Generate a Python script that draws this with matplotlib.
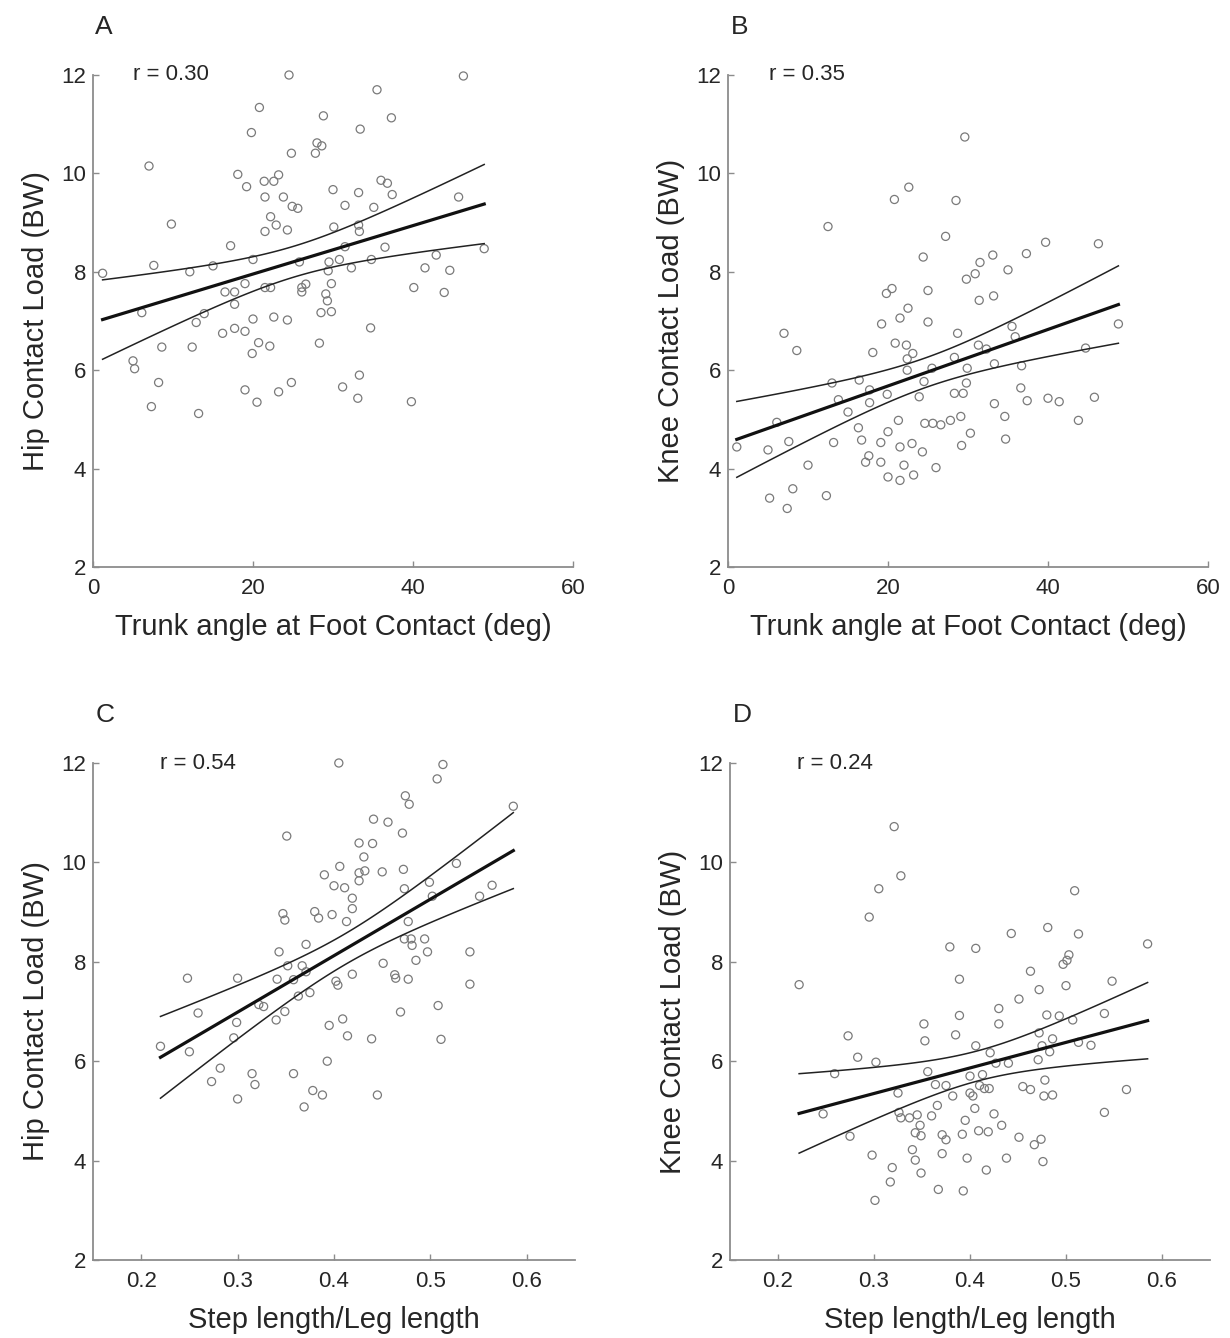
import numpy as np
import matplotlib
matplotlib.use('Agg')
import matplotlib.pyplot as plt

plt.rcParams['font.family'] = ['Liberation Sans', 'DejaVu Sans']

# Panel A: trunk angle vs hip contact load
trunk_hip_x = [1.2, 7.0, 7.6, 9.8, 6.1, 5.0, 5.2, 8.6, 8.2, 7.3, 13.2, 12.4, 12.9, 13.9, 12.1,
               15.0, 17.2, 18.1, 19.2, 19.8, 20.8, 21.4, 21.5, 22.6, 23.2, 22.2, 21.5, 22.9, 24.3,
               23.8, 24.9, 25.6, 24.8, 24.5, 20.0, 16.5, 17.7, 17.7, 19.0, 20.0, 16.2, 17.7, 19.0,
               19.9, 20.7, 22.1, 21.5, 22.2, 22.6, 24.3, 19.0, 20.5, 23.2, 24.8, 25.8, 26.1, 26.6,
               26.1, 27.8, 28.0, 28.6, 28.8, 30.0, 31.5, 30.1, 29.4, 29.5, 29.8, 29.1, 29.3, 28.5,
               29.8, 28.3, 30.8, 31.5, 32.3, 33.2, 33.3, 33.2, 33.4, 31.2, 33.1, 33.3, 34.7, 34.8,
               35.1, 35.5, 36.0, 36.8, 37.3, 37.4, 36.5, 39.8, 40.1, 41.5, 42.9, 43.9, 44.6, 45.7,
               46.3, 48.9]
trunk_hip_y = [7.97, 10.15, 8.13, 8.97, 7.17, 6.19, 6.03, 6.47, 5.75, 5.26, 5.12, 6.47, 6.97, 7.15, 8.0,
               8.12, 8.53, 9.98, 9.73, 10.83, 11.34, 9.84, 9.52, 9.84, 9.97, 9.12, 8.82, 8.95, 8.85,
               9.52, 9.33, 9.29, 10.41, 12.0, 8.25, 7.59, 7.59, 7.34, 7.76, 7.04, 6.75, 6.85, 6.79,
               6.34, 6.56, 6.49, 7.68, 7.68, 7.08, 7.02, 5.6, 5.35, 5.56, 5.75, 8.2, 7.68, 7.75,
               7.59, 10.41, 10.62, 10.56, 11.17, 9.67, 9.35, 8.91, 8.02, 8.2, 7.76, 7.55, 7.41, 7.17,
               7.19, 6.55, 8.25, 8.51, 8.08, 8.95, 8.82, 9.61, 10.9, 5.66, 5.43, 5.9, 6.86, 8.25,
               9.31, 11.7, 9.86, 9.8, 11.13, 9.57, 8.5, 5.36, 7.68, 8.08, 8.34, 7.58, 8.03, 9.52,
               11.98, 8.47]

# Panel B: trunk angle vs knee contact load
trunk_knee_x = [1.1, 5.0, 5.2, 6.1, 7.0, 7.4, 7.6, 8.1, 8.6, 10.0, 12.3, 12.5, 13.0, 13.2, 13.8,
                15.0, 16.3, 16.4, 16.7, 17.2, 17.6, 17.7, 17.7, 18.1, 19.1, 19.1, 19.2, 19.9, 20.0,
                20.0, 19.8, 20.5, 20.8, 20.9, 21.3, 21.5, 21.5, 21.5, 22.0, 22.3, 22.5, 22.6, 22.4,
                22.4, 23.1, 23.0, 23.2, 23.9, 24.3, 24.4, 24.5, 24.6, 25.0, 25.0, 25.5, 25.6, 26.0,
                26.6, 27.2, 27.8, 28.3, 28.3, 28.5, 28.7, 29.1, 29.2, 29.4, 29.6, 29.8, 29.9, 29.8,
                30.3, 30.9, 31.3, 31.4, 31.5, 32.3, 33.1, 33.2, 33.3, 33.3, 34.6, 34.7, 35.0, 35.5,
                35.9, 36.7, 36.6, 37.4, 37.3, 39.7, 40.0, 41.4, 43.8, 44.7, 45.8, 46.3, 48.8]
trunk_knee_y = [4.44, 4.38, 3.40, 4.94, 6.75, 3.19, 4.55, 3.59, 6.4, 4.07, 3.45, 8.92, 5.74, 4.53, 5.40,
                5.15, 4.83, 5.8, 4.58, 4.13, 4.26, 5.6, 5.34, 6.36, 4.53, 4.13, 6.94, 5.51, 4.75,
                3.83, 7.56, 7.66, 9.47, 6.55, 4.98, 7.06, 4.44, 3.76, 4.07, 6.51, 7.26, 9.72, 6.23,
                6.0, 6.34, 4.51, 3.87, 5.46, 4.34, 8.3, 5.77, 4.92, 7.62, 6.98, 6.04, 4.92, 4.02,
                4.89, 8.72, 4.98, 6.26, 5.53, 9.45, 6.75, 5.06, 4.47, 5.53, 10.74, 7.85, 6.04, 5.74,
                4.72, 7.96, 6.51, 7.42, 8.19, 6.43, 8.34, 7.51, 6.13, 5.32, 5.06, 4.6, 8.04, 6.89,
                6.68, 6.09, 5.64, 5.38, 8.37, 8.6, 5.43, 5.36, 4.98, 6.45, 5.45, 8.57, 6.94]

# Panel C: step length vs hip contact load
step_hip_x = [0.220, 0.248, 0.250, 0.259, 0.273, 0.282, 0.300, 0.299, 0.296, 0.300, 0.315, 0.318,
              0.322, 0.327, 0.340, 0.341, 0.343, 0.347, 0.349, 0.351, 0.349, 0.352, 0.358, 0.358,
              0.363, 0.367, 0.371, 0.371, 0.375, 0.369, 0.378, 0.388, 0.380, 0.384, 0.390, 0.393,
              0.395, 0.398, 0.400, 0.402, 0.404, 0.405, 0.406, 0.409, 0.411, 0.413, 0.414, 0.419,
              0.419, 0.419, 0.426, 0.426, 0.426, 0.431, 0.432, 0.439, 0.440, 0.441, 0.445, 0.450,
              0.451, 0.456, 0.463, 0.464, 0.469, 0.471, 0.472, 0.473, 0.474, 0.478, 0.473, 0.477,
              0.477, 0.480, 0.481, 0.485, 0.494, 0.497, 0.499, 0.502, 0.507, 0.508, 0.511, 0.513,
              0.527, 0.541, 0.541, 0.551, 0.564, 0.586]
step_hip_y = [6.30, 7.67, 6.19, 6.97, 5.59, 5.86, 7.67, 6.78, 6.47, 5.24, 5.75, 5.53,
              7.14, 7.10, 6.83, 7.65, 8.2, 8.97, 8.84, 10.53, 7.0, 7.92, 7.64, 5.75,
              7.31, 7.92, 8.35, 7.80, 7.38, 5.08, 5.41, 5.32, 9.01, 8.88, 9.75, 6.0,
              6.72, 8.95, 9.53, 7.61, 7.53, 12.0, 9.92, 6.85, 9.49, 8.81, 6.51, 9.28,
              9.07, 7.75, 9.79, 9.63, 10.39, 10.11, 9.83, 6.45, 10.38, 10.87, 5.32, 9.81,
              7.97, 10.81, 7.74, 7.67, 6.99, 10.59, 9.86, 9.47, 11.34, 11.17, 8.46, 7.65,
              8.81, 8.46, 8.33, 8.03, 8.46, 8.2, 9.6, 9.32, 11.68, 7.12, 6.44, 11.97,
              9.98, 8.2, 7.55, 9.32, 9.54, 11.13]

# Panel D: step length vs knee contact load
step_knee_x = [0.222, 0.247, 0.259, 0.273, 0.275, 0.283, 0.295, 0.298, 0.302, 0.301, 0.305, 0.317,
               0.319, 0.321, 0.325, 0.326, 0.328, 0.328, 0.337, 0.340, 0.343, 0.343, 0.345, 0.348,
               0.349, 0.349, 0.352, 0.353, 0.356, 0.360, 0.364, 0.366, 0.367, 0.371, 0.371, 0.375,
               0.375, 0.379, 0.382, 0.385, 0.389, 0.389, 0.392, 0.393, 0.395, 0.397, 0.400, 0.400,
               0.403, 0.405, 0.406, 0.406, 0.409, 0.410, 0.413, 0.415, 0.417, 0.419, 0.420, 0.421,
               0.425, 0.427, 0.430, 0.430, 0.433, 0.438, 0.440, 0.443, 0.451, 0.451, 0.455, 0.463,
               0.463, 0.467, 0.471, 0.472, 0.472, 0.474, 0.475, 0.476, 0.478, 0.477, 0.480, 0.481,
               0.483, 0.486, 0.486, 0.493, 0.497, 0.500, 0.501, 0.503, 0.507, 0.509, 0.513, 0.513,
               0.526, 0.540, 0.540, 0.548, 0.563, 0.585]
step_knee_y = [7.54, 4.94, 5.75, 6.51, 4.49, 6.08, 8.9, 4.11, 5.98, 3.20, 9.47, 3.57,
               3.86, 10.72, 5.36, 4.97, 9.73, 4.86, 4.86, 4.22, 4.56, 4.01, 4.92, 4.71,
               4.5, 3.75, 6.75, 6.41, 5.79, 4.9, 5.53, 5.11, 3.42, 4.52, 4.14, 4.42,
               5.51, 8.3, 5.3, 6.53, 7.65, 6.92, 4.53, 3.39, 4.81, 4.05, 5.36, 5.70,
               5.3, 5.05, 8.27, 6.31, 4.6, 5.51, 5.73, 5.45, 3.81, 4.58, 5.45, 6.17,
               4.94, 5.96, 7.06, 6.75, 4.71, 4.05, 5.96, 8.57, 7.25, 4.47, 5.49, 5.43,
               7.81, 4.32, 6.03, 7.44, 6.57, 4.43, 6.31, 3.98, 5.62, 5.3, 6.93, 8.69,
               6.19, 6.45, 5.32, 6.91, 7.95, 7.52, 8.03, 8.14, 6.83, 9.43, 6.38, 8.56,
               6.32, 6.96, 4.97, 7.61, 5.43, 8.36]

r_labels = ['r = 0.30', 'r = 0.35', 'r = 0.54', 'r = 0.24']
panel_letters = ['A', 'B', 'C', 'D']
x_labels = ['Trunk angle at Foot Contact (deg)', 'Trunk angle at Foot Contact (deg)',
            'Step length/Leg length', 'Step length/Leg length']
y_labels = ['Hip Contact Load (BW)', 'Knee Contact Load (BW)',
            'Hip Contact Load (BW)', 'Knee Contact Load (BW)']
trunk_ticks = [0, 20, 40, 60]
step_ticks = [0.2, 0.3, 0.4, 0.5, 0.6]
load_ticks = [2, 4, 6, 8, 10, 12]

T95 = 1.98  # two-sided 95% t value for n ~ 100


def fit_with_ci(x, y):
    x = np.asarray(x)
    y = np.asarray(y)
    n = len(x)
    b, a = np.polyfit(x, y, 1)
    res = y - (a + b * x)
    s = np.sqrt(np.sum(res ** 2) / (n - 2))
    xm = x.mean()
    sxx = np.sum((x - xm) ** 2)
    xs = np.linspace(x.min(), x.max(), 100)
    yh = a + b * xs
    half = T95 * s * np.sqrt(1.0 / n + (xs - xm) ** 2 / sxx)
    return xs, yh, yh - half, yh + half


def draw_panel(ax, x, y, xlim, xticks, letter, rtext, rx, xlabel, ylabel):
    ax.scatter(x, y, s=34, facecolors='none', edgecolors='#7a7a7a', linewidths=0.9,
               zorder=2, clip_on=False)
    xs, yh, lo, hi = fit_with_ci(x, y)
    ax.plot(xs, yh, color='#111111', lw=2.3, zorder=3)
    ax.plot(xs, lo, color='#222222', lw=1.1, zorder=3)
    ax.plot(xs, hi, color='#222222', lw=1.1, zorder=3)
    ax.set_xlim(xlim)
    ax.set_ylim(2, 12)
    ax.set_xticks(xticks)
    ax.set_yticks(load_ticks)
    ax.spines['top'].set_visible(False)
    ax.spines['right'].set_visible(False)
    for sp in ['left', 'bottom']:
        ax.spines[sp].set_color('#8c8c8c')
        ax.spines[sp].set_linewidth(1.3)
    ax.tick_params(direction='in', length=4, width=1, color='#8c8c8c',
                   labelsize=16, labelcolor='#262626')
    ax.tick_params(axis='x', pad=8)
    ax.tick_params(axis='y', pad=5)
    ax.set_xlabel(xlabel, fontsize=21, color='#262626', labelpad=10)
    ax.set_ylabel(ylabel, fontsize=21, color='#262626', labelpad=8)
    ax.text(rx, 1.0, rtext, transform=ax.transAxes, fontsize=16, color='#262626',
            ha='left', va='center')
    ax.text(0.005, 1.097, letter, transform=ax.transAxes, fontsize=19, color='#262626',
            ha='left', va='center')


fig = plt.figure(figsize=(12.3, 13.38), dpi=100)
W, H = 1230.0, 1338.0
boxes = [(93, 75, 480, 492), (728, 75, 480, 492), (93, 763, 482, 497), (730, 763, 480, 497)]
axes = [fig.add_axes([l / W, 1 - (t + h) / H, w / W, h / H]) for (l, t, w, h) in boxes]

draw_panel(axes[0], trunk_hip_x, trunk_hip_y, (0, 60), trunk_ticks, panel_letters[0],
           r_labels[0], 0.083, x_labels[0], y_labels[0])
draw_panel(axes[1], trunk_knee_x, trunk_knee_y, (0, 60), trunk_ticks, panel_letters[1],
           r_labels[1], 0.085, x_labels[1], y_labels[1])
draw_panel(axes[2], step_hip_x, step_hip_y, (0.15, 0.65), step_ticks, panel_letters[2],
           r_labels[2], 0.14, x_labels[2], y_labels[2])
draw_panel(axes[3], step_knee_x, step_knee_y, (0.15, 0.65), step_ticks, panel_letters[3],
           r_labels[3], 0.14, x_labels[3], y_labels[3])

fig.savefig('out.png', dpi=100)
